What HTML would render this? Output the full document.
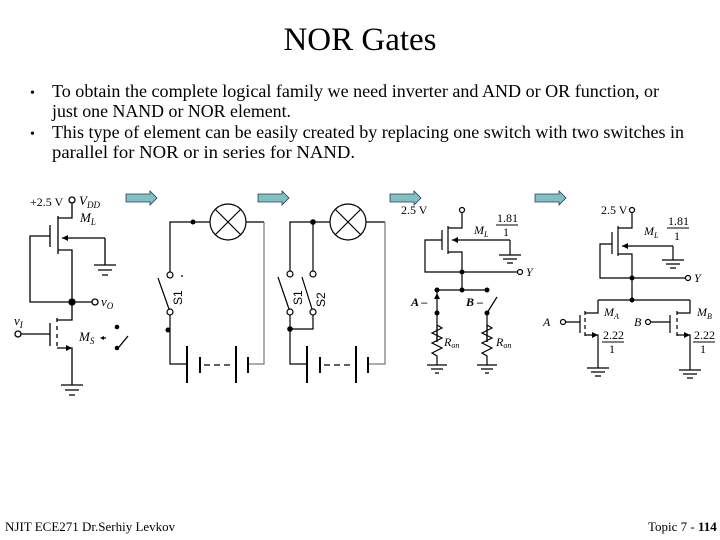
<!DOCTYPE html>
<html><head><meta charset="utf-8"><style>
body{margin:0;background:#fff;}
svg{display:block;font-family:"Liberation Serif",serif;}
</style></head><body>
<svg width="720" height="540" viewBox="0 0 720 540" xmlns="http://www.w3.org/2000/svg">
<text x="360" y="50" font-size="33" text-anchor="middle">NOR Gates</text>
<g font-size="17.5">
<text x="30" y="97" font-size="14">•</text>
<text x="52" y="97" textLength="607" lengthAdjust="spacingAndGlyphs">To obtain the complete logical family we need inverter and AND or OR function, or</text>
<text x="52" y="117" textLength="239" lengthAdjust="spacingAndGlyphs">just one NAND or NOR element.</text>
<text x="30" y="138" font-size="14">•</text>
<text x="52" y="138" textLength="632" lengthAdjust="spacingAndGlyphs">This type of element can be easily created by replacing one switch with two switches in</text>
<text x="52" y="158" textLength="303" lengthAdjust="spacingAndGlyphs">parallel for NOR or in series for NAND.</text>
</g>

<!-- arrows -->
<g fill="#7fc0c0" stroke="#336" stroke-width="0.8">
<path d="M126,194 H150 V191 L157,198 L150,205 V202 H126 Z"/>
<path d="M258,194 H282 V191 L289,198 L282,205 V202 H258 Z"/>
<path d="M390,194 H414 V191 L421,198 L414,205 V202 H390 Z"/>
<path d="M535,194 H559 V191 L566,198 L559,205 V202 H535 Z"/>
</g>

<g stroke="#000" stroke-width="1.3" fill="none">
<!-- circuit 0: inverter -->
<circle cx="72" cy="200" r="3" fill="#fff"/>
<path d="M72,203 V218 H58 M58,216 V254 M58,250 H72 V302 M50,225 V247 M50,236 H30 V302 H72"/>
<path d="M105,238 H62 M105,238 V265 M94,265 H116 M98,270 H112 M102,275 H108"/>
<circle cx="72" cy="302" r="3" fill="#000"/>
<path d="M72,302 H92"/><circle cx="95" cy="302" r="3" fill="#fff"/>
<path d="M72,302 V320 H57 M57,318 V322 M57,326 V330 M57,334 V338 M57,342 V346 M57,348 H72 V385 M50,323 V346 M50,334 H21"/>
<circle cx="18" cy="334" r="3" fill="#fff"/>
<path d="M61,385 H83 M65,390 H79 M69,395 H75"/>
<path d="M106,338 H102 M119,347 L128,336"/>
</g>
<g fill="#000">
<path d="M62,238 L68,235 L68,241 Z"/>
<path d="M72,348 L66,345 L66,351 Z"/>
<path d="M100,338 L104,336 L104,340Z"/>
<circle cx="117" cy="327" r="2.3"/><circle cx="117" cy="348" r="2.3"/>
</g>
<g font-size="13" font-style="italic">
<text x="30" y="206" font-style="normal" font-size="12">+2.5 V</text>
<text x="79" y="205">V<tspan font-size="9" dy="3">DD</tspan></text>
<text x="80" y="222">M<tspan font-size="9" dy="3">L</tspan></text>
<text x="101" y="306">v<tspan font-size="9" dy="3">O</tspan></text>
<text x="14" y="325">v<tspan font-size="9" dy="3">I</tspan></text>
<text x="79" y="341">M<tspan font-size="9" dy="3">S</tspan></text>
</g>

<!-- circuit 1 -->
<g stroke="#000" stroke-width="1.2" fill="none">
<path d="M210,222 H170 V272 M170,315 V364 H187 M246,222 H264"/>
<path d="M264,222 V364 H248" stroke="#777"/>
<circle cx="228" cy="222" r="18"/>
<path d="M215,209 L241,235 M241,209 L215,235"/>
<circle cx="170" cy="275" r="3" fill="#fff"/><circle cx="170" cy="312" r="3" fill="#fff"/>
<path d="M158,278 L169,309"/>
<path d="M187,346 V383 M200,357 V373 M236,346 V383 M248,357 V373" stroke-width="2"/>
<path d="M204,365 H230" stroke-dasharray="6,4"/>
<path d="M181,276 H183"/>
</g>
<circle cx="193" cy="222" r="2.5"/><circle cx="168" cy="330" r="2.5"/>
<text transform="translate(182,305) rotate(-90)" font-family="Liberation Sans,sans-serif" font-size="12">S1</text>

<!-- circuit 2 -->
<g stroke="#000" stroke-width="1.2" fill="none">
<path d="M330,222 H290 V271 M313,222 V271 M290,315 V364 H307 M313,315 V329 H290 M366,222 H385"/>
<path d="M385,222 V364 H368" stroke="#777"/>
<circle cx="348" cy="222" r="18"/>
<path d="M335,209 L361,235 M361,209 L335,235"/>
<circle cx="290" cy="274" r="3" fill="#fff"/><circle cx="290" cy="312" r="3" fill="#fff"/>
<circle cx="313" cy="274" r="3" fill="#fff"/><circle cx="313" cy="312" r="3" fill="#fff"/>
<path d="M278,277 L289,309 M302,277 L312,309"/>
<path d="M307,346 V383 M320,357 V373 M356,346 V383 M368,357 V373" stroke-width="2"/>
<path d="M324,365 H350" stroke-dasharray="6,4"/>
</g>
<circle cx="313" cy="222" r="2.8"/><circle cx="290" cy="329" r="2.8"/>
<g font-family="Liberation Sans,sans-serif" font-size="12">
<text transform="translate(302,305) rotate(-90)">S1</text>
<text transform="translate(325,307) rotate(-90)">S2</text>
</g>

<!-- circuit 3 -->
<g stroke="#000" stroke-width="1.2" fill="none">
<circle cx="462" cy="210" r="2.5" fill="#fff"/>
<path d="M462,213 V228 H448 M448,226 V254 M448,252 H462 V290 M442,230 V250 M442,240 H425 V272 H462"/>
<path d="M510,240 H452 M510,240 V255 M499,255 H521 M503,259 H517 M507,263 H513"/>
<path d="M462,272 H517"/><circle cx="520" cy="272" r="2.5" fill="#fff"/>
<path d="M437,290 H487 M437,290 V342 M487,313 V342 M487,313 L497,297"/>
<path d="M437,325 l5,3 l-10,5 l10,5 l-10,5 l10,5 l-10,5 l5,3 V365 M427,365 H447 M431,369 H443 M435,373 H439"/>
<path d="M487,325 l5,3 l-10,5 l10,5 l-10,5 l10,5 l-10,5 l5,3 V365 M477,365 H497 M481,369 H493 M485,373 H489"/>
<path d="M437,342 V325 M487,342 V325"/>
</g>
<g fill="#000">
<path d="M452,240 L458,237 L458,243Z"/>
<circle cx="462" cy="272" r="2.5"/><circle cx="437" cy="290" r="2.5"/><circle cx="462" cy="290" r="2.5"/><circle cx="487" cy="290" r="2.5"/>
<circle cx="437" cy="313" r="2.5"/><circle cx="487" cy="313" r="2.5"/>
<path d="M437,293 L434,299 L440,299Z"/>
</g>
<g font-size="12">
<text x="401" y="214">2.5 V</text>
<text x="497" y="222">1.81</text><path d="M496,225 H518" stroke="#000"/><text x="503" y="236">1</text>
<text x="474" y="234" font-style="italic">M<tspan font-size="8" dy="3">L</tspan></text>
<text x="526" y="276" font-style="italic">Y</text>
<text x="411" y="306" font-style="italic" font-weight="bold">A –</text>
<text x="466" y="306" font-style="italic" font-weight="bold">B –</text>
<text x="444" y="346" font-style="italic">R<tspan font-size="8" dy="2">on</tspan></text>
<text x="496" y="346" font-style="italic">R<tspan font-size="8" dy="2">on</tspan></text>
</g>

<!-- circuit 4 -->
<g stroke="#000" stroke-width="1.2" fill="none">
<circle cx="632" cy="210" r="2.5" fill="#fff"/>
<path d="M632,213 V228 H618 M618,226 V256 M618,254 H632 V300 M612,232 V254 M612,244 H600 V278 H632"/>
<path d="M673,246 H622 M673,246 V260 M662,260 H684 M666,264 H680 M670,268 H676"/>
<path d="M632,278 H685"/><circle cx="688" cy="278" r="2.5" fill="#fff"/>
<path d="M598,300 H690 M598,300 V313 H585 M585,311 V315 M585,318 V322 M585,325 V329 M585,332 V336 M585,335 H598 V368 M580,315 V333 M580,322 H566"/>
<circle cx="563" cy="322" r="2.5" fill="#fff"/>
<path d="M587,368 H609 M591,372 H605 M595,376 H601"/>
<path d="M690,300 V313 H677 M677,311 V315 M677,318 V322 M677,325 V329 M677,332 V336 M677,335 H690 V370 M670,315 V333 M670,322 H651"/>
<circle cx="648" cy="322" r="2.5" fill="#fff"/>
<path d="M679,370 H701 M683,374 H697 M687,378 H693"/>
</g>
<g fill="#000">
<path d="M622,246 L628,243 L628,249Z"/>
<path d="M598,335 L592,332 L592,338Z"/><path d="M690,335 L684,332 L684,338Z"/>
<circle cx="632" cy="278" r="2.5"/><circle cx="632" cy="300" r="2.5"/>
</g>
<g font-size="12">
<text x="601" y="214">2.5 V</text>
<text x="668" y="225">1.81</text><path d="M667,228 H689" stroke="#000"/><text x="674" y="240">1</text>
<text x="644" y="235" font-style="italic">M<tspan font-size="8" dy="3">L</tspan></text>
<text x="694" y="282" font-style="italic">Y</text>
<text x="604" y="316" font-style="italic">M<tspan font-size="8" dy="3">A</tspan></text>
<text x="697" y="316" font-style="italic">M<tspan font-size="8" dy="3">B</tspan></text>
<text x="543" y="326" font-style="italic">A</text>
<text x="634" y="326" font-style="italic">B</text>
<text x="603" y="339">2.22</text><path d="M602,342 H624" stroke="#000"/><text x="609" y="353">1</text>
<text x="694" y="339">2.22</text><path d="M693,342 H715" stroke="#000"/><text x="700" y="353">1</text>
</g>

<text x="5" y="531" font-size="13">NJIT  ECE271   Dr.Serhiy Levkov</text>
<text x="648" y="531" font-size="13">Topic 7 - <tspan font-weight="bold">114</tspan></text>
</svg>
</body></html>
